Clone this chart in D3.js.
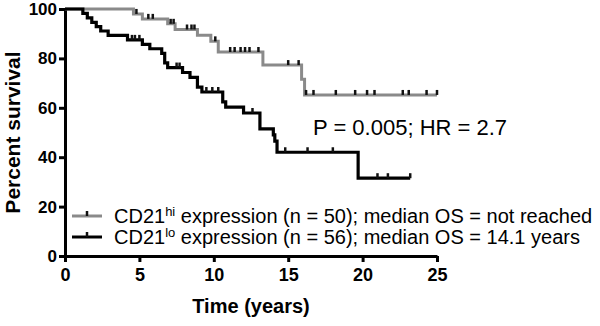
<!DOCTYPE html>
<html>
<head>
<meta charset="utf-8">
<script src="https://cdn.jsdelivr.net/npm/d3@7"></script>
<style>
  body { margin: 0; background: #fff; }
  text { font-family: "Liberation Sans", Arial, sans-serif; }
</style>
</head>
<body>
<div id="km_viz"></div>
<script>
// Kaplan-Meier data (time in years, survival in %)
const hiTimes = [0, 4.6, 5.2, 6.9, 7.4, 8.9, 9.8, 10.3, 13.3, 15.9, 16.1];
const hiSurv  = [100, 98, 96, 94, 91.7, 89.4, 86.9, 82.6, 77.3, 71.6, 65.2];
const hiEnd = 25;
const hiCensor = [4.8, 5.6, 5.9, 7.1, 7.3, 8.2, 8.5, 8.7, 10.1, 11.1, 11.4, 11.8, 12.1, 12.4, 13.0,
                  15.0, 15.7, 16.2, 16.7, 18.2, 19.5, 20.3, 20.8, 22.7, 23.1, 24.3, 25.0];

const loTimes = [0, 1.2, 1.5, 1.8, 2.1, 2.4, 2.9, 4.2, 5.2, 5.7, 6.5, 6.7, 6.9, 7.9, 8.4, 8.9, 9.2,
                 10.6, 10.8, 12.0, 13.1, 14.0, 14.1, 14.25, 19.7];
const loSurv  = [100, 98.2, 96.4, 94.6, 92.9, 91.1, 89.3, 87.5, 85.7, 83.9, 82.0, 78.2, 76.3, 74.3,
                 72.3, 68.4, 66.4, 62.4, 60.3, 57.9, 51.5, 49, 46.5, 42, 31.5];
const loEnd = 23.2;
const loCensor = [4.5, 4.7, 5.0, 7.5, 7.7, 9.5, 9.9, 10.3, 12.6, 14.8, 16.3, 18.0, 21.0, 21.7, 23.2];

const xTicks = [0, 5, 10, 15, 20, 25];
const yTicks = [0, 20, 40, 60, 80, 100];

const legendRows = [
  { sup: "hi", rest: " expression (n = 50); median OS = not reached", color: "#8a8a8a" },
  { sup: "lo", rest: " expression (n = 56); median OS = 14.1 years", color: "#000" }
];
const statText = "P = 0.005; HR = 2.7";

// Dimensions
const W = 600, H = 326;
const margin = { top: 9, right: 163, bottom: 70, left: 65 };

const svg = d3.select("#km_viz")
  .append("svg")
    .attr("width", W)
    .attr("height", H);

const x = d3.scaleLinear().domain([0, 25]).range([margin.left, W - margin.right]);
const y = d3.scaleLinear().domain([0, 100]).range([H - margin.bottom, margin.top]);

// Axes
const xAxis = svg.append("g")
  .attr("transform", `translate(0,${y(0)})`)
  .call(d3.axisBottom(x).tickValues(xTicks).tickSize(6).tickPadding(6).tickSizeOuter(0));
const yAxis = svg.append("g")
  .attr("transform", `translate(${x(0)},0)`)
  .call(d3.axisLeft(y).tickValues(yTicks).tickSize(6).tickPadding(2).tickSizeOuter(0));

[xAxis, yAxis].forEach(a => {
  a.select(".domain").attr("stroke", "#000").attr("stroke-width", 3);
  a.selectAll(".tick line").attr("stroke", "#000").attr("stroke-width", 3);
  a.selectAll(".tick text")
    .attr("fill", "#000")
    .style("font-family", "'Liberation Sans', Arial, sans-serif")
    .style("font-size", "17px")
    .style("font-weight", "bold");
});
xAxis.selectAll(".tick text").style("font-size", "18px");

// Axis titles
svg.append("text")
  .attr("x", (x(0) + x(25)) / 2)
  .attr("y", 313)
  .attr("text-anchor", "middle")
  .style("font-size", "20px")
  .style("font-weight", "bold")
  .text("Time (years)");

svg.append("text")
  .attr("transform", `translate(20,${(y(0) + y(100)) / 2}) rotate(-90)`)
  .attr("text-anchor", "middle")
  .style("font-size", "21px")
  .style("font-weight", "bold")
  .text("Percent survival");

// Step curves
function stepPoints(times, surv, end) {
  const pts = times.map((t, i) => [t, surv[i]]);
  pts.push([end, surv[surv.length - 1]]);
  return pts;
}
function survAt(times, surv, t) {
  let s = surv[0];
  times.forEach((tt, i) => { if (tt <= t) s = surv[i]; });
  return s;
}

const line = d3.line()
  .x(d => x(d[0]))
  .y(d => y(d[1]))
  .curve(d3.curveStepAfter);

const groups = [
  { times: hiTimes, surv: hiSurv, end: hiEnd, censor: hiCensor, color: "#8a8a8a", width: 3 },
  { times: loTimes, surv: loSurv, end: loEnd, censor: loCensor, color: "#000", width: 3.2 }
];

groups.forEach(g => {
  svg.append("path")
    .datum(stepPoints(g.times, g.surv, g.end))
    .attr("fill", "none")
    .attr("stroke", g.color)
    .attr("stroke-width", g.width)
    .attr("d", line);

  svg.append("g")
    .selectAll("line")
    .data(g.censor)
    .join("line")
      .attr("x1", d => x(d))
      .attr("x2", d => x(d))
      .attr("y1", d => y(survAt(g.times, g.surv, d)))
      .attr("y2", d => y(survAt(g.times, g.surv, d)) - 5)
      .attr("stroke", "#111")
      .attr("stroke-width", 2.5);
});

// Stats annotation
svg.append("text")
  .attr("x", 313)
  .attr("y", 135)
  .style("font-size", "22px")
  .text(statText);

// Legend
const legend = svg.append("g");
legendRows.forEach((r, i) => {
  const cy = 216 + i * 21;
  legend.append("line")
    .attr("x1", 72).attr("x2", 102)
    .attr("y1", cy).attr("y2", cy)
    .attr("stroke", r.color)
    .attr("stroke-width", 3);
  legend.append("line")
    .attr("x1", 87).attr("x2", 87)
    .attr("y1", cy).attr("y2", cy - 5)
    .attr("stroke", "#111")
    .attr("stroke-width", 2.5);
  const t = legend.append("text")
    .attr("x", 114)
    .attr("y", cy + 7)
    .style("font-size", "20px");
  t.append("tspan").text("CD21");
  t.append("tspan").attr("dy", -7).style("font-size", "13px").text(r.sup);
  t.append("tspan").attr("dy", 7).text(r.rest);
});
</script>
</body>
</html>
